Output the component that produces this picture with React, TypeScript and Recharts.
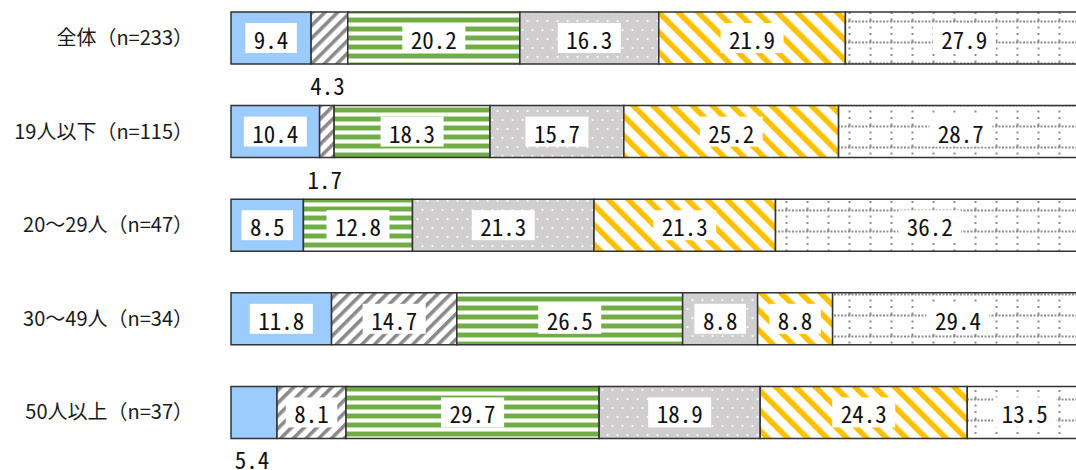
import { BarChart, Bar, XAxis, YAxis, LabelList } from 'recharts';

const categories = [
  '全体（n=233）',
  '19人以下（n=115）',
  '20～29人（n=47）',
  '30～49人（n=34）',
  '50人以上（n=37）',
];

const blueValues = [9.4, 10.4, 8.5, 11.8, 5.4];
const grayHatchValues = [4.3, 1.7, 0, 14.7, 8.1];
const greenValues = [20.2, 18.3, 12.8, 26.5, 29.7];
const dotValues = [16.3, 15.7, 21.3, 8.8, 18.9];
const yellowValues = [21.9, 25.2, 21.3, 8.8, 24.3];
const gridValues = [27.9, 28.7, 36.2, 29.4, 13.5];

const data = categories.map((name, i) => ({
  name,
  a: blueValues[i],
  b: grayHatchValues[i],
  c: greenValues[i],
  d: dotValues[i],
  e: yellowValues[i],
  f: gridValues[i],
}));

const labelFont = '"Noto Sans Mono CJK JP", "Noto Sans CJK JP", monospace';

function SegmentLabel(props: any) {
  const { x, y, width, height, value } = props;
  if (!value) return null;
  const text = Number(value).toFixed(1);
  const cx = Number(x) + Number(width) / 2;
  const cy = Number(y) + Number(height) / 2;
  if (value < 6) {
    return (
      <text
        x={cx - 2}
        y={Number(y) + Number(height) + 21}
        textAnchor="middle"
        dominantBaseline="central"
        fontFamily={labelFont}
        fontSize={23}
        fill="#111"
      >
        {text}
      </text>
    );
  }
  const w = text.length * 11.5 + 17;
  return (
    <g>
      <rect x={cx - w / 2} y={cy - 15} width={w} height={30} fill="#fff" />
      <text
        x={cx}
        y={cy + 1}
        textAnchor="middle"
        dominantBaseline="central"
        fontFamily={labelFont}
        fontSize={23}
        fill="#111"
      >
        {text}
      </text>
    </g>
  );
}

const series = [
  { key: 'a', fill: '#9ccbfd' },
  { key: 'b', fill: 'url(#hatchGray)' },
  { key: 'c', fill: 'url(#stripeGreen)' },
  { key: 'd', fill: 'url(#dotGray)' },
  { key: 'e', fill: 'url(#hatchYellow)' },
  { key: 'f', fill: 'url(#dotGrid)' },
];

export default function App() {
  // the reference crops the right end of the bars, so the plot runs past the window
  return (
    <div style={{ position: 'absolute', left: 0, top: 0, width: 1076, height: 470, overflow: 'hidden' }}>
      <div style={{ position: 'absolute', left: 0, top: -9 }}>
        <BarChart
          width={1084}
          height={480}
          data={data}
          layout="vertical"
          margin={{ top: 0, right: 0, bottom: 12, left: 0 }}
          barSize={52}
        >
          <defs>
            <pattern id="hatchGray" patternUnits="userSpaceOnUse" width={9} height={9} patternTransform="rotate(45)">
              <rect width={9} height={9} fill="#fff" />
              <rect width={3.6} height={9} fill="#8a8a8a" />
            </pattern>
            <pattern id="stripeGreen" patternUnits="userSpaceOnUse" width={9} height={9}>
              <rect width={9} height={9} fill="#fff" />
              <rect y={0} width={9} height={4} fill="#70ad47" />
              <rect y={4} width={9} height={1} fill="#b9d9a3" />
              <rect y={8} width={9} height={1} fill="#b9d9a3" />
            </pattern>
            <pattern id="dotGray" patternUnits="userSpaceOnUse" width={10} height={18}>
              <rect width={10} height={18} fill="#d0cece" />
              <circle cx={2.5} cy={3} r={1.1} fill="#fff" />
              <circle cx={7.5} cy={12} r={1.1} fill="#fff" />
            </pattern>
            <pattern id="hatchYellow" patternUnits="userSpaceOnUse" width={14} height={14} patternTransform="rotate(-45)">
              <rect width={14} height={14} fill="#fff" />
              <rect width={5.5} height={14} fill="#ffc000" />
            </pattern>
            <pattern id="dotGrid" patternUnits="userSpaceOnUse" width={21} height={21} x={8} y={29}>
              <rect width={21} height={21} fill="#fff" />
              <line x1={0} y1={1.5} x2={21} y2={1.5} stroke="#8e8e8e" strokeWidth={2} strokeDasharray="2 1.5" />
              <line x1={1.5} y1={0} x2={1.5} y2={21} stroke="#8e8e8e" strokeWidth={2} strokeDasharray="2 4.5" />
            </pattern>
          </defs>
          <XAxis type="number" domain={[0, 100]} hide />
          <YAxis
            type="category"
            dataKey="name"
            width={231}
            axisLine={false}
            tickLine={false}
            tickSize={0}
            tickMargin={38}
            tick={{ fontSize: 20, fill: '#1a1a1a', fontFamily: '"Noto Sans CJK JP", sans-serif' }}
          />
          {series.map(s => (
            <Bar
              key={s.key}
              dataKey={s.key}
              stackId="total"
              fill={s.fill}
              stroke="#333"
              strokeWidth={1.5}
              isAnimationActive={false}
            >
              <LabelList dataKey={s.key} content={SegmentLabel} />
            </Bar>
          ))}
        </BarChart>
      </div>
    </div>
  );
}
